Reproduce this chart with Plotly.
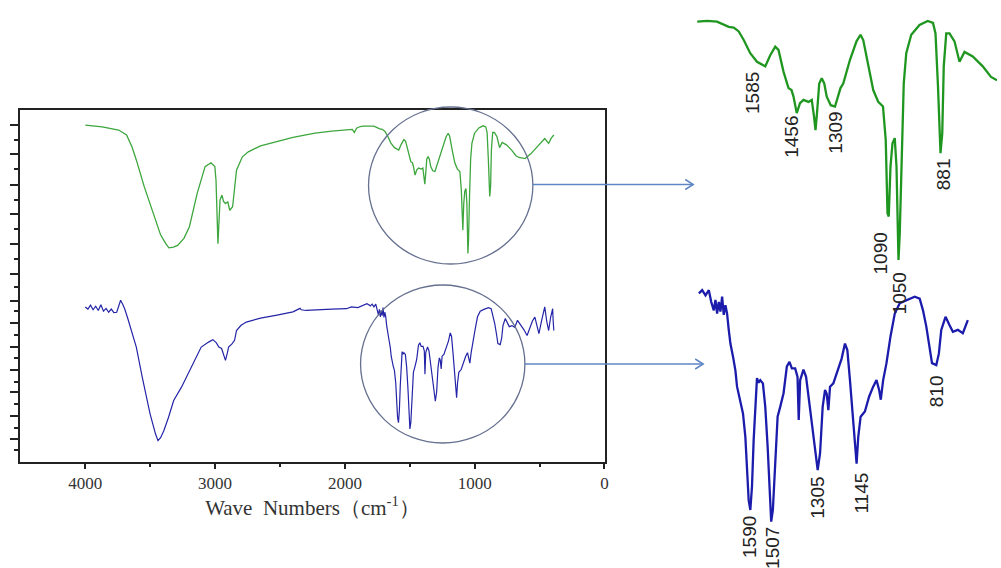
import plotly.graph_objects as go

# ---------------- data (wavenumber cm-1, relative transmittance) ----------------
green_wn = [4000, 3870, 3743, 3682, 3640, 3607, 3546, 3470, 3420, 3380, 3356, 3320, 3289, 3240,
            3198, 3138, 3077, 3032, 3002, 2993, 2978, 2962, 2947, 2935, 2920, 2902, 2887, 2865,
            2835, 2790, 2744, 2650, 2533, 2400, 2230, 2100, 1943, 1927, 1910, 1882,
            1857, 1817, 1778, 1751, 1731, 1711, 1691, 1671, 1645, 1618, 1585, 1565, 1545, 1532,
            1512, 1492, 1480, 1472, 1459, 1446, 1432, 1412, 1399, 1390, 1384, 1378, 1369, 1359,
            1349, 1339, 1323, 1306, 1293, 1284, 1273, 1246, 1220, 1204, 1193, 1173, 1153, 1133,
            1114, 1103, 1096, 1091, 1084, 1076, 1067, 1060, 1052, 1047, 1040, 1031, 1021, 1001,
            968, 935, 914, 904, 894, 884, 877, 871, 861, 848, 828, 808, 788, 755, 715, 682, 658,
            611, 566, 520, 460, 430, 410, 390]
green_t = [95.7, 95.2, 94.3, 92.9, 89.5, 85.8, 78.2, 69.6, 64.5, 62.0, 60.8, 61.0, 61.5, 63.5,
           66.8, 76.3, 83.9, 85.0, 83.9, 80.1, 62.0, 74.4, 75.8, 74.0, 73.4, 73.9, 71.5, 72.5,
           82.9, 86.7, 88.1, 89.8, 91.0, 92.2, 93.4, 94.0, 94.5, 93.6, 94.8, 95.3,
           95.4, 95.5, 95.4, 95.0, 94.6, 94.5, 93.9, 92.6, 90.6, 89.3, 88.6, 90.3, 91.6, 91.1,
           87.8, 85.3, 85.0, 84.0, 81.5, 83.0, 83.5, 83.2, 83.5, 81.0, 78.9, 81.5, 86.0, 86.8,
           86.0, 84.0, 82.7, 82.5, 84.0, 85.3, 86.0, 89.6, 92.4, 93.4, 92.6, 88.6, 85.0, 83.2,
           82.5, 77.4, 66.3, 65.8, 73.4, 76.9, 77.7, 73.4, 59.2, 63.2, 74.9, 86.0, 90.6, 93.4,
           94.9, 95.5, 95.2, 93.6, 85.5, 75.4, 78.4, 88.6, 93.6, 93.6, 92.4, 89.3, 90.8, 90.1,
           88.6, 87.0, 86.5, 86.2, 87.6, 89.5, 91.9, 90.5, 92.0, 92.9]

blue_wn = [4000, 3980, 3960, 3940, 3920, 3900, 3880, 3860, 3840, 3820, 3800, 3780, 3758, 3740,
           3728, 3712, 3697, 3675, 3652, 3607, 3561, 3501, 3460, 3440, 3420, 3395, 3360, 3319,
           3259, 3168, 3107, 3050, 3017, 2990, 2971, 2950, 2935, 2920, 2905, 2896, 2870, 2850,
           2835, 2800, 2759, 2650, 2533, 2400, 2345, 2336, 2300, 2230, 2100, 1988, 1950, 1900,
           1860, 1830, 1810,
           1804, 1790, 1776, 1762, 1752, 1741, 1734, 1727, 1720, 1713, 1706, 1699, 1692, 1685,
           1678, 1671, 1660, 1650, 1643, 1629, 1618, 1608, 1601, 1594, 1587, 1580, 1573, 1566,
           1559, 1552, 1545, 1534, 1524, 1514, 1506, 1499, 1492, 1482, 1472, 1461, 1447, 1433,
           1422, 1412, 1398, 1388, 1383, 1377, 1363, 1352, 1342, 1328, 1314, 1303, 1293, 1282,
           1272, 1265, 1258, 1251, 1237, 1223, 1202, 1188, 1178, 1167, 1153, 1146, 1139, 1132,
           1122, 1104, 1086, 1069, 1055, 1044, 1037, 1027, 1013, 996, 978, 957, 929, 894, 873,
           859, 845, 831, 821, 803, 792, 782, 764, 747, 733, 712, 691, 670,
           650, 620, 596, 575, 555, 536, 520, 505, 485, 470, 460, 445, 430, 415, 399, 395, 390]
blue_t = [44.0, 43.4, 44.5, 43.2, 44.2, 43.0, 44.6, 42.8, 43.6, 42.5, 43.4, 42.4, 42.5, 44.5,
          45.9, 44.8, 43.5, 41.0, 38.3, 32.6, 24.0, 13.6, 8.0, 6.0, 6.8, 8.8, 12.5, 17.4,
          21.2, 27.8, 32.6, 34.0, 34.7, 33.8, 32.6, 32.2, 30.5, 28.8, 31.0, 32.6, 33.5, 34.5,
          37.3, 38.8, 39.7, 40.8, 41.6, 42.6, 43.6, 43.2, 43.0, 43.2, 43.4, 43.5, 44.0, 43.8,
          44.4, 44.9, 44.5,
          44.3, 44.8, 44.0, 44.8, 43.0, 41.7, 43.3, 41.2, 43.0, 41.5, 43.8, 41.0, 42.5, 41.2,
          38.7, 36.6, 34.6, 32.5, 30.0, 27.4, 25.9, 22.3, 16.7, 12.6, 11.1, 14.7, 21.8, 26.9,
          31.3, 30.6, 31.0, 30.5, 26.9, 20.8, 13.6, 9.3, 11.1, 18.8, 25.4, 26.9, 29.0, 33.1,
          33.8, 32.8, 32.8, 31.5, 24.9, 31.0, 32.6, 31.5, 28.5, 24.9, 20.8, 17.2, 19.8, 26.9,
          29.5, 28.9, 26.4, 30.0, 30.5, 32.0, 34.3, 36.6, 35.6, 31.0, 24.9, 20.8, 18.2, 22.3,
          25.4, 26.2, 28.5, 30.0, 31.0, 29.5, 28.0, 31.0, 33.6, 37.7, 41.2, 42.8, 43.3, 43.8, 43.5,
          41.7, 39.2, 36.1, 33.6, 33.3, 35.1, 38.7, 40.7, 39.4, 38.4, 38.7, 38.2, 40.2,
          39.2, 37.5, 35.9, 38.0, 40.0, 41.1, 39.0, 36.4, 40.0, 42.5, 44.0, 40.0, 37.3, 41.0, 43.5, 40.0, 37.3]

# wavenumber windows shown in the magnified views
green_zoom_window = (658, 1857)
blue_zoom_window = (670, 1804)

green_peaks = ["1585", "1456", "1309", "1090", "1050", "881"]
blue_peaks = ["1590", "1507", "1305", "1145", "810"]

x_ticks = [4000, 3000, 2000, 1000, 0]
x_minor = [3500, 2500, 1500, 500]
y_major = [95.7, 87.4, 78.8, 70.3, 61.8, 53.4, 45.8, 39.4, 32.7, 26.0, 19.7, 13.0, 6.4]
y_minor = [91.4, 83.1, 74.5, 66.1, 57.6, 49.6, 42.8, 36.0, 29.4, 22.8, 16.3, 9.7, 3.2]


def window(wn, t, lo_hi):
    lo, hi = lo_hi
    pairs = [(a, b) for a, b in zip(wn, t) if lo <= a <= hi]
    return [p[0] for p in pairs], [p[1] for p in pairs]


# ---------------- figure ----------------
W, H = 1001, 568
GREEN_MAIN = "#3da63d"
BLUE_MAIN = "#2424a8"
GREEN_ZOOM = "#1f961f"
BLUE_ZOOM = "#1c1cac"

gz_x, gz_y = window(green_wn, green_t, green_zoom_window)
bz_x, bz_y = window(blue_wn, blue_t, blue_zoom_window)

fig = go.Figure()
fig.add_trace(go.Scatter(x=green_wn, y=green_t, mode="lines", line=dict(color=GREEN_MAIN, width=1.3),
                         xaxis="x", yaxis="y", showlegend=False, hoverinfo="skip"))
fig.add_trace(go.Scatter(x=blue_wn, y=blue_t, mode="lines", line=dict(color=BLUE_MAIN, width=1.2),
                         xaxis="x", yaxis="y", showlegend=False, hoverinfo="skip"))
fig.add_trace(go.Scatter(x=gz_x, y=gz_y, mode="lines", line=dict(color=GREEN_ZOOM, width=2.3),
                         xaxis="x2", yaxis="y2", showlegend=False, hoverinfo="skip"))
fig.add_trace(go.Scatter(x=bz_x, y=bz_y, mode="lines", line=dict(color=BLUE_ZOOM, width=2.3),
                         xaxis="x3", yaxis="y3", showlegend=False, hoverinfo="skip"))


def px(x):
    return x / W


def py(y):
    return 1 - y / H


axis_col = "#222222"
fig.update_layout(
    width=W, height=H, autosize=False,
    margin=dict(l=0, r=0, t=0, b=0),
    paper_bgcolor="white", plot_bgcolor="white",
    xaxis=dict(domain=[px(20.5), px(607)], range=[4500, -1], showgrid=False, zeroline=False,
               showline=True, linecolor=axis_col, linewidth=2, mirror=True,
               tickmode="array", tickvals=x_ticks, ticktext=[str(v) for v in x_ticks],
               ticks="outside", ticklen=5, tickwidth=2, tickcolor=axis_col,
               minor=dict(tickmode="array", tickvals=x_minor, ticks="outside",
                          ticklen=3, tickwidth=2, tickcolor=axis_col),
               tickfont=dict(family="Liberation Serif", size=17, color="#333333"),
               title=dict(text="Wave  Numbers（cm<sup>-1</sup>）",
                          font=dict(family="Liberation Serif", size=21, color="#333333"), standoff=8)),
    yaxis=dict(domain=[py(461.7), py(110)], range=[0, 100], showgrid=False, zeroline=False,
               showline=True, linecolor=axis_col, linewidth=2, mirror=True,
               tickmode="array", tickvals=y_major, showticklabels=False,
               ticks="outside", ticklen=8, tickwidth=2, tickcolor=axis_col,
               minor=dict(tickmode="array", tickvals=y_minor, ticks="outside",
                          ticklen=4, tickwidth=2, tickcolor=axis_col)),
    xaxis2=dict(domain=[px(690), 1.0], range=[1897, 658], visible=False, anchor="y2"),
    yaxis2=dict(domain=[py(280), 1.0], range=[56.15, 98.68], visible=False, anchor="x2"),
    xaxis3=dict(domain=[px(690), 1.0], range=[1853, 547], visible=False, anchor="y3"),
    yaxis3=dict(domain=[0.0, py(280)], range=[2.2, 46.35], visible=False, anchor="x3"),
)

# magnifier ellipses
circle_col = "#66708f"
for (x0, x1, y0, y1) in [(370, 535, 107, 264), (362, 527, 285, 443)]:
    fig.add_shape(type="circle", xref="paper", yref="paper",
                  x0=px(x0), x1=px(x1), y0=py(y1), y1=py(y0),
                  line=dict(color=circle_col, width=1.3), layer="above")

# arrows to the magnified views (line + open chevron head)
arrow_col = "#5f86c4"
for (xs, xe, yy) in [(535, 696, 184.5), (527, 706, 364)]:
    fig.add_shape(type="line", xref="paper", yref="paper",
                  x0=px(xs), x1=px(xe), y0=py(yy), y1=py(yy),
                  line=dict(color=arrow_col, width=1.3), layer="above")
    fig.add_shape(type="path", xref="paper", yref="paper",
                  path=f"M {px(xe - 8)},{py(yy - 5)} L {px(xe)},{py(yy)} L {px(xe - 8)},{py(yy + 5)}",
                  line=dict(color=arrow_col, width=1.5), layer="above")

# peak labels (rotated)
label_font = dict(family="Liberation Sans", size=19, color="#222222")
green_pos = [(755, 93), (795, 137), (839, 133), (884, 253), (903, 293), (948, 174)]
blue_pos = [(752, 537), (775, 548), (820, 498), (864, 493), (940, 391)]
for txt, (x, y) in list(zip(green_peaks, green_pos)) + list(zip(blue_peaks, blue_pos)):
    fig.add_annotation(x=px(x), y=py(y), xref="paper", yref="paper", text=txt,
                       showarrow=False, textangle=-90, font=label_font,
                       xanchor="center", yanchor="middle")

fig.write_html("out.html")
